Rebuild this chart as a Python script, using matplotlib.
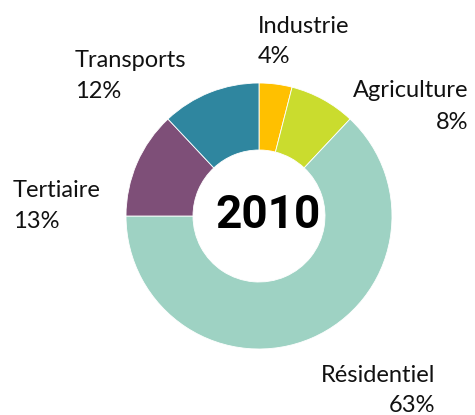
import matplotlib
matplotlib.use("Agg")
import matplotlib.pyplot as plt

# energy use by sector, 2010 (%)
sectors = ["Industrie", "Agriculture", "Résidentiel", "Tertiaire", "Transports"]
shares = [4, 8, 63, 13, 12]
colors = ["#FFC000", "#CADC2E", "#9ED2C3", "#7E4F78", "#2F869F"]
year = "2010"

W, H = 475, 415
fig = plt.figure(figsize=(W / 100, H / 100), dpi=100)
ax = fig.add_axes([0, 0, 1, 1])

ax.pie(shares, colors=colors, startangle=90, counterclock=False,
       radius=133, center=(259, H - 216),
       wedgeprops=dict(width=67, edgecolor="white", linewidth=0.6))
ax.set_xlim(0, W)
ax.set_ylim(0, H)
ax.set_aspect("equal")
ax.axis("off")

ax.text(268, H - 215, year, ha="center", va="center",
        fontsize=33, fontweight="bold", family="Roboto", color="black")

# label placement: (x, baseline of first line, baseline of second line, alignment)
label_pos = {
    "Industrie": (258, 33, 63, "left"),
    "Agriculture": (468, 97, 129, "right"),
    "Résidentiel": (435, 382, 412, "right"),
    "Tertiaire": (13, 197, 228, "left"),
    "Transports": (75, 67, 98, "left"),
}
for name, pct in zip(sectors, shares):
    x, y1, y2, ha = label_pos[name]
    for txt, y in ((name, y1), (f"{pct}%", y2)):
        ax.text(x, H - y, txt, ha=ha, va="baseline", fontsize=17,
                family="Lato", color="#111111")

fig.savefig("out.png", dpi=100)
